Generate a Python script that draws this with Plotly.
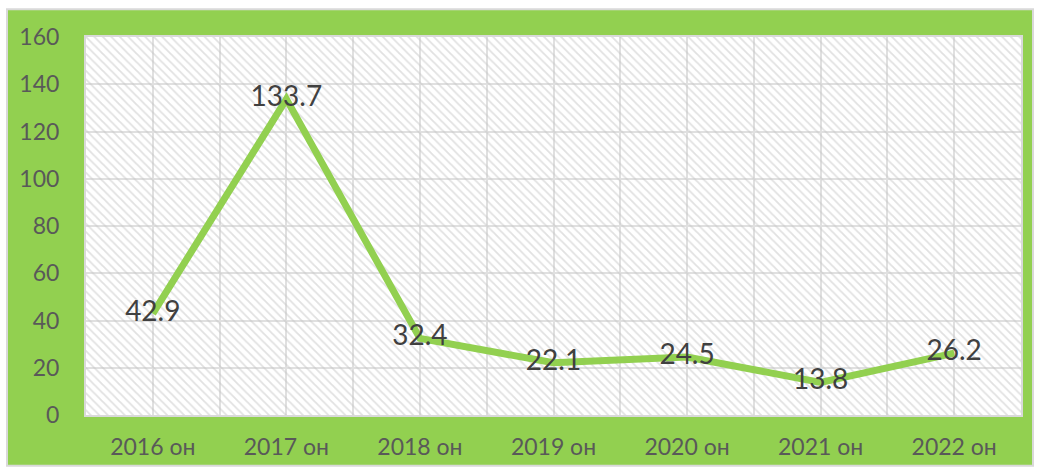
import plotly.graph_objects as go

categories = ["2016 он", "2017 он", "2018 он", "2019 он", "2020 он", "2021 он", "2022 он"]
values = [42.9, 133.7, 32.4, 22.1, 24.5, 13.8, 26.2]
y_ticks = [0, 20, 40, 60, 80, 100, 120, 140, 160]

GREEN = "#92D050"
n = len(categories)
xs = list(range(n))
x_lo, x_hi = -0.5, n - 0.5
y_lo, y_hi = y_ticks[0], y_ticks[-1]

fig = go.Figure()

# hatched plot background
fig.add_trace(go.Scatter(
    x=[x_lo, x_hi, x_hi, x_lo, x_lo], y=[y_lo, y_lo, y_hi, y_hi, y_lo],
    mode="lines", line=dict(width=0), fill="toself",
    fillcolor="rgba(0,0,0,0)",
    fillpattern=dict(shape="\\", fgcolor="#c4c4c4", bgcolor="rgba(255,255,255,0)",
                     size=6, solidity=0.3),
    hoverinfo="skip", showlegend=False,
))

fig.add_trace(go.Scatter(
    x=xs, y=values, mode="lines+text",
    line=dict(color=GREEN, width=7),
    text=[f"{v:.1f}" for v in values], textposition="middle center",
    textfont=dict(family="Lato, Roboto, sans-serif", size=28, color="#404040"),
    showlegend=False,
))

W, H = 1038, 472
ml, mr, mt, mb = 86, 17, 37, 55
pw, ph = W - ml - mr, H - mt - mb

def px_x(p):
    return (p - ml) / pw

def px_y(p):
    return (H - mb - p) / ph

fig.add_shape(type="rect", xref="paper", yref="paper",
              x0=px_x(7), x1=px_x(1033), y0=px_y(468), y1=px_y(9),
              fillcolor=GREEN, line=dict(color="#d9d9d9", width=2), layer="below")
fig.add_shape(type="rect", xref="paper", yref="paper",
              x0=0, x1=1, y0=0, y1=1,
              fillcolor="white", line=dict(width=0), layer="below")

fig.update_layout(
    width=W, height=H,
    margin=dict(l=ml, r=mr, t=mt, b=mb),
    paper_bgcolor="white", plot_bgcolor="white",
    font=dict(family="Lato, Roboto, sans-serif", color="#595959"),
    xaxis=dict(
        range=[x_lo, x_hi], tickmode="array", tickvals=xs, ticktext=categories,
        showgrid=True, gridcolor="#e0e0e0", gridwidth=1.5,
        minor=dict(tickmode="array", tickvals=[i + 0.5 for i in range(-1, n)],
                   showgrid=True, gridcolor="#e0e0e0", gridwidth=1.5),
        showline=True, linecolor="#d9d9d9", linewidth=2, mirror=True,
        zeroline=False, tickfont=dict(size=23, color="#595959"),
        ticks="outside", ticklen=10, tickcolor="rgba(0,0,0,0)",
    ),
    yaxis=dict(
        range=[y_lo, y_hi], tickmode="array", tickvals=y_ticks,
        showgrid=True, gridcolor="#e0e0e0", gridwidth=1.5,
        showline=True, linecolor="#d9d9d9", linewidth=2, mirror=True,
        zeroline=False, tickfont=dict(size=23, color="#595959"),
        ticks="outside", ticklen=20, tickcolor="rgba(0,0,0,0)",
    ),
)

fig.write_html("out.html")
